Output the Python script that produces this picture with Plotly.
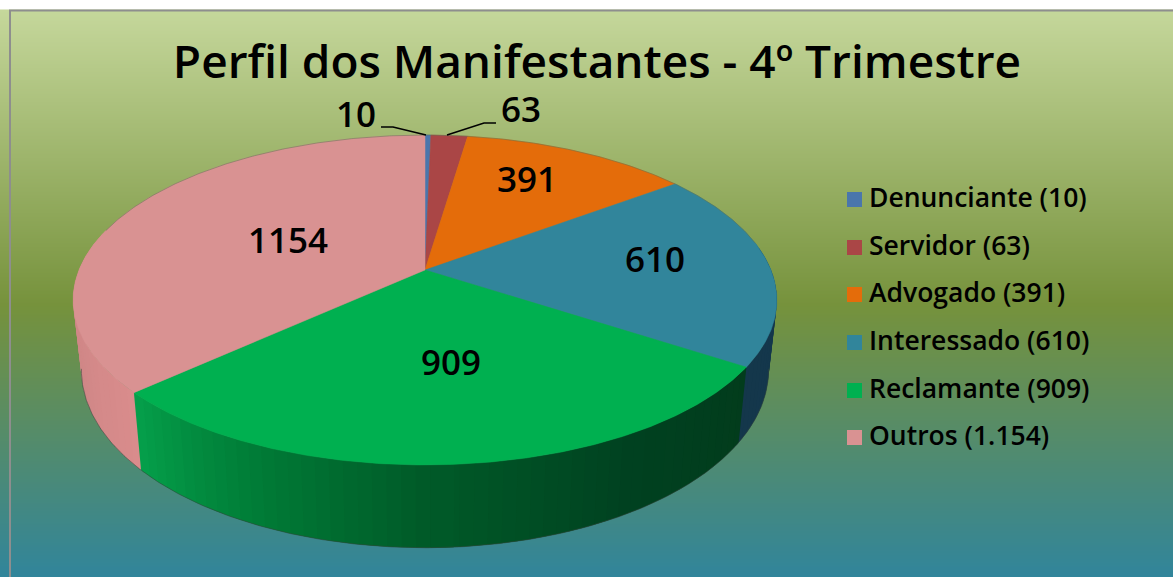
import numpy as np
import plotly.graph_objects as go

# ---- data ----
categories = ["Denunciante", "Servidor", "Advogado", "Interessado", "Reclamante", "Outros"]
values = [10, 63, 391, 610, 909, 1154]
legend_labels = ["Denunciante (10)", "Servidor (63)", "Advogado (391)",
                 "Interessado (610)", "Reclamante (909)", "Outros (1.154)"]
value_labels = ["10", "63", "391", "610", "909", "1154"]
title_text = "Perfil dos Manifestantes - 4º Trimestre"

# ---- styles ----
W, H = 1173, 577
top_colors = ["#4A76AC", "#AA4646", "#E46C0A", "#31859B", "#00B050", "#D99292"]
FONT = "Open Sans"
label_pos = [(356, 118), (521, 113), (527, 183), (655, 263), (451, 366), (288, 244)]
leader_10 = ([381, 393, 426], [127, 127, 135])
leader_63 = ([447, 484, 496], [135, 123, 123])
legend_x, legend_text_x = 854.5, 869
legend_y = [199.5, 247.5, 294.5, 342.5, 390.5, 437.5]

# projection of the unit disc onto the page (top face and bottom face of the drum)
TOP = dict(a=346.0, b=159.5, k=0.1818, cx=425.0, cy=270.0)
BOT = dict(a=338.0, b=172.0, k=0.18, cx=425.0, cy=338.0)


def project(theta_deg, r, p):
    t = np.radians(theta_deg)
    x, y = r * np.sin(t), r * np.cos(t)
    w = 1 + p["k"] * y
    return p["cx"] + p["a"] * x / w, p["cy"] - p["b"] * y / w


def arc(t0, t1, p, step=0.5):
    n = max(2, int(abs(t1 - t0) / step) + 1)
    return project(np.linspace(t0, t1, n), 1.0, p)


def lerp_color(stops, t):
    xs = [s[0] for s in stops]
    c = [np.interp(t, xs, [s[1][i] for s in stops]) for i in range(3)]
    return "rgb(%d,%d,%d)" % tuple(int(round(v)) for v in c)


edges = np.concatenate([[0], np.cumsum(values)]) / sum(values) * 360.0
fig = go.Figure()

# background gradient
bg_y = np.arange(10, H + 1, 1.0)
bg_stops = [(11, (197, 215, 155)), (305, (118, 146, 60)), (577, (49, 133, 155))]
bg_scale = [[(y - 11) / 566, "rgb(%d,%d,%d)" % c] for y, c in bg_stops]
fig.add_trace(go.Heatmap(x=[10, W], y=bg_y, z=[[v, v] for v in bg_y], zmin=11, zmax=577,
                         colorscale=bg_scale, showscale=False, hoverinfo="skip", zsmooth="fast"))

# side wall: each band runs on under the next one towards the front, so no seams show
side_stops = {
    3: [(85, (20, 55, 78)), (123.3, (20, 55, 75))],
    4: [(123.2, (2, 60, 28)), (150, (0, 65, 32)), (180, (0, 90, 40)), (205, (0, 125, 55)), (227.6, (5, 160, 75))],
    5: [(227.6, (217, 140, 140)), (250, (208, 135, 135)), (285, (205, 140, 140))],
}
SIDE_MID = 178.0  # the band at this angle is painted last
strips = []
for i, stops in side_stops.items():
    lo, hi = max(edges[i], 80), min(edges[i + 1], 285)
    grid = np.append(np.arange(lo, hi, 2.0), hi)
    for a, b in zip(grid[:-1], grid[1:]):
        mid = (a + b) / 2
        if mid < SIDE_MID:
            a2, b2 = a, min(b + 2.0, SIDE_MID + 2.0)
        else:
            a2, b2 = max(a - 2.0, SIDE_MID - 2.0), b
        strips.append((abs(mid - SIDE_MID), a2, b2, lerp_color(stops, mid)))
for _, a, b, col in sorted(strips, key=lambda s: -s[0]):
    tx, ty = arc(a, b, TOP, step=0.25)
    bx, by = arc(a, b, BOT, step=0.25)
    fig.add_trace(go.Scatter(x=np.r_[tx, bx[::-1], tx[0]], y=np.r_[ty, by[::-1], ty[0]],
                             mode="lines", fill="toself", fillcolor=col,
                             line=dict(width=0), hoverinfo="skip", showlegend=False))

# faint rim of the lower edge
rx, ry = arc(100, 260, BOT)
fig.add_trace(go.Scatter(x=rx, y=ry, mode="lines", line=dict(color="rgba(50,70,60,0.55)", width=1),
                         hoverinfo="skip", showlegend=False))

# top face
for i, col in enumerate(top_colors):
    ax, ay = arc(edges[i], edges[i + 1], TOP)
    fig.add_trace(go.Scatter(x=np.r_[TOP["cx"], ax, TOP["cx"]], y=np.r_[TOP["cy"], ay, TOP["cy"]],
                             mode="lines", fill="toself", fillcolor=col,
                             line=dict(color=col, width=0.5), name=categories[i],
                             hoverinfo="skip", showlegend=False))
ax, ay = arc(285, 440, TOP)
fig.add_trace(go.Scatter(x=ax, y=ay, mode="lines", line=dict(color="rgba(90,110,80,0.6)", width=0.8),
                         hoverinfo="skip", showlegend=False))

# leader lines
for lx, ly in (leader_10, leader_63):
    fig.add_trace(go.Scatter(x=lx, y=ly, mode="lines", line=dict(color="#000000", width=1.6),
                             hoverinfo="skip", showlegend=False))

# value labels
fig.add_trace(go.Scatter(x=[p[0] for p in label_pos], y=[p[1] for p in label_pos], mode="text",
                         text=value_labels, textposition="middle center",
                         textfont=dict(family=FONT, size=35, color="#000000", weight=600),
                         hoverinfo="skip", showlegend=False))

# legend
fig.add_trace(go.Scatter(x=[legend_x] * 6, y=legend_y, mode="markers",
                         marker=dict(symbol="square", size=15, color=top_colors, line=dict(width=0)),
                         hoverinfo="skip", showlegend=False))
fig.add_trace(go.Scatter(x=[legend_text_x] * 6, y=[v + 1 for v in legend_y], mode="text", text=legend_labels,
                         textposition="middle right",
                         textfont=dict(family=FONT, size=26.5, color="#000000", weight=600),
                         hoverinfo="skip", showlegend=False))

# title
fig.add_trace(go.Scatter(x=[597], y=[66], mode="text", text=[title_text], textposition="middle center",
                         textfont=dict(family=FONT, size=46, color="#000000", weight=600),
                         hoverinfo="skip", showlegend=False))

fig.update_layout(width=W, height=H, margin=dict(l=0, r=0, t=0, b=0, autoexpand=False),
                  paper_bgcolor="#FFFFFF", plot_bgcolor="#FFFFFF", showlegend=False,
                  xaxis=dict(range=[0, W], visible=False, fixedrange=True),
                  yaxis=dict(range=[H, 0], visible=False, fixedrange=True),
                  shapes=[dict(type="path", xref="x", yref="y", path=f"M 10 {H} L 10 10.5 L {W} 10.5",
                               line=dict(color="#8E8E8E", width=2), layer="above")])
fig.write_html("out.html", config={"displayModeBar": False},
               post_script="document.body.style.margin='0';document.body.style.overflow='hidden';")
